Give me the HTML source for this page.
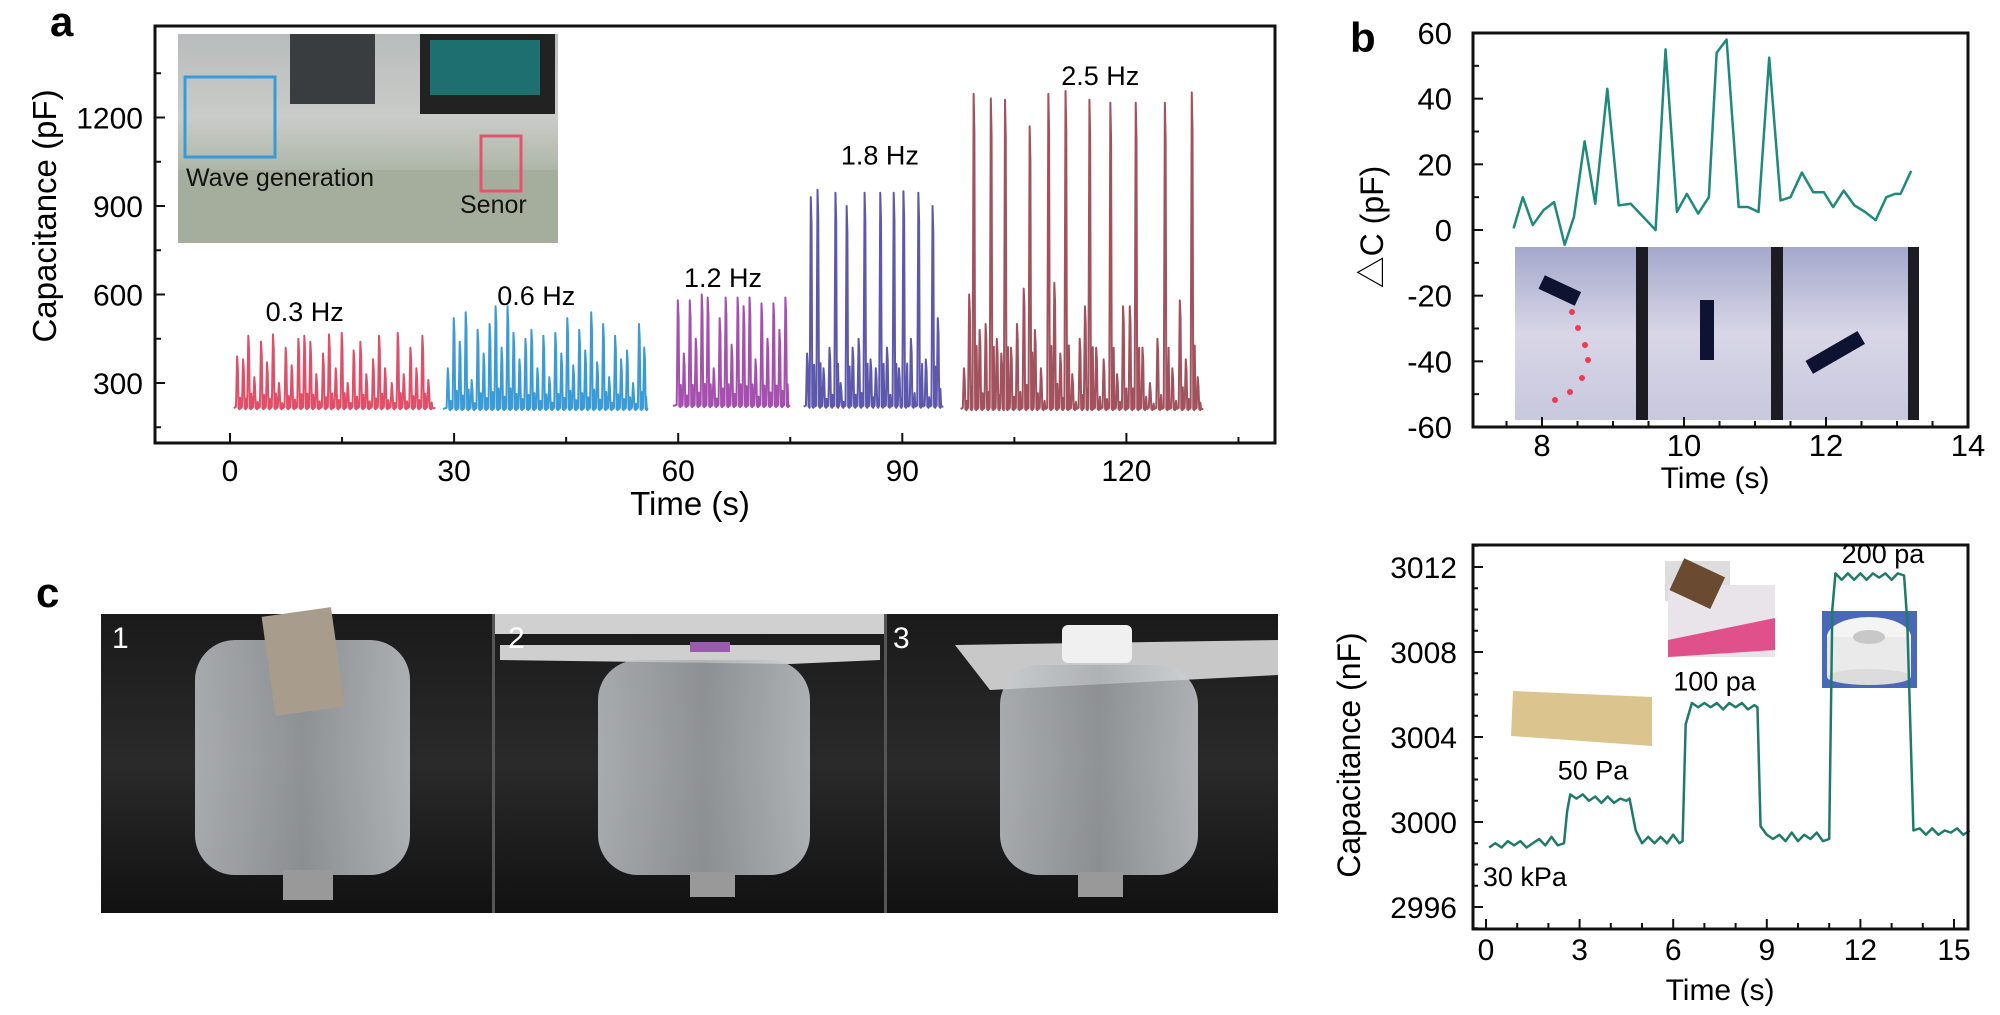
<!DOCTYPE html>
<html><head><meta charset="utf-8">
<style>
html,body{margin:0;padding:0;background:#fff;}
svg{display:block;font-family:"Liberation Sans","Noto Sans CJK SC",sans-serif;}
</style></head>
<body>
<svg id="fig" width="2000" height="1015" viewBox="0 0 2000 1015" xmlns="http://www.w3.org/2000/svg">
<defs>
<linearGradient id="gA" x1="0" y1="0" x2="0" y2="1"><stop offset="0" stop-color="#b8bcbc"/><stop offset="0.4" stop-color="#c9ccc8"/><stop offset="0.7" stop-color="#a9b2a2"/><stop offset="1" stop-color="#b9c0b0"/></linearGradient>
<linearGradient id="gB" x1="0" y1="0" x2="0" y2="1"><stop offset="0" stop-color="#a4a8cc"/><stop offset="0.5" stop-color="#d8d6e6"/><stop offset="1" stop-color="#c8c8de"/></linearGradient>
<linearGradient id="gC" x1="0" y1="0" x2="0" y2="1"><stop offset="0" stop-color="#1a1a1a"/><stop offset="0.5" stop-color="#2a2a2a"/><stop offset="1" stop-color="#111"/></linearGradient>
<linearGradient id="gGlass" x1="0" y1="0" x2="1" y2="0"><stop offset="0" stop-color="#c8ccd0"/><stop offset="0.5" stop-color="#a8acb0"/><stop offset="1" stop-color="#d0d4d8"/></linearGradient>
</defs>

<!-- ===== Panel a ===== -->
<text x="50" y="36" font-size="42" font-weight="bold">a</text>
<g>
  <rect x="178" y="34" width="380" height="209" fill="url(#gA)"/>
  <rect x="290" y="34" width="85" height="70" fill="#3a3d40"/>
  <rect x="420" y="34" width="135" height="80" fill="#222"/>
  <rect x="430" y="40" width="110" height="55" fill="#1d6f70"/>
  <rect x="178" y="170" width="380" height="73" fill="#a5ae9c"/>
  <rect x="185" y="77" width="90" height="80" fill="none" stroke="#3a9ad6" stroke-width="3"/>
  <rect x="481" y="136" width="40" height="55" fill="none" stroke="#e05570" stroke-width="3"/>
  <text x="186" y="186" font-size="25" fill="#111">Wave generation</text>
  <text x="460" y="213" font-size="25" fill="#111">Senor</text>
</g>
<g id="axA"></g>

<!-- ===== Panel b ===== -->
<text x="1350" y="52" font-size="42" font-weight="bold">b</text>
<g>
  <rect x="1515" y="247" width="404" height="173" fill="url(#gB)"/>
  <rect x="1636" y="247" width="12" height="173" fill="#1c1c22"/>
  <rect x="1771" y="247" width="12" height="173" fill="#1c1c22"/>
  <rect x="1908" y="247" width="11" height="173" fill="#1c1c22"/>
  <rect x="1540" y="283" width="40" height="15" fill="#0d1330" transform="rotate(25 1560 290)"/>
  <rect x="1700" y="300" width="14" height="60" fill="#0d1330"/>
  <rect x="1805" y="345" width="60" height="15" fill="#0d1330" transform="rotate(-30 1835 352)"/>
  <circle cx="1572" cy="312" r="3" fill="#ef3a55"/><circle cx="1578" cy="328" r="3" fill="#ef3a55"/>
  <circle cx="1585" cy="345" r="3" fill="#ef3a55"/><circle cx="1588" cy="360" r="3" fill="#ef3a55"/>
  <circle cx="1582" cy="378" r="3" fill="#ef3a55"/><circle cx="1570" cy="392" r="3" fill="#ef3a55"/>
  <circle cx="1555" cy="400" r="3" fill="#ef3a55"/>
</g>
<g id="axB"></g>

<!-- ===== Panel c ===== -->
<text x="36" y="607" font-size="42" font-weight="bold">c</text>
<g>
  <rect x="101" y="614" width="1177" height="299" fill="url(#gC)"/>
  <rect x="494" y="614" width="392" height="20" fill="#d0d0d0"/>
  <polygon points="500,645 880,645 880,660 790,664 500,660" fill="#cfcfcf"/>
  <polygon points="955,645 1278,640 1278,675 990,690" fill="#c8c8c8"/>
  <rect x="492" y="614" width="3" height="299" fill="#555"/>
  <rect x="884" y="614" width="3" height="299" fill="#555"/>
  <g>
    <rect x="195" y="640" width="215" height="235" rx="40" fill="url(#gGlass)" opacity="0.8"/>
    <rect x="268" y="612" width="70" height="100" fill="#a89c8c" transform="rotate(-8 300 660)"/>
    <rect x="283" y="870" width="50" height="30" fill="#999"/>
  </g>
  <g>
    <rect x="598" y="660" width="212" height="215" rx="40" fill="url(#gGlass)" opacity="0.8"/>
    <rect x="690" y="642" width="40" height="10" fill="#9a5ab0"/>
    <rect x="690" y="872" width="45" height="25" fill="#999"/>
  </g>
  <g>
    <rect x="1000" y="665" width="198" height="210" rx="40" fill="url(#gGlass)" opacity="0.8"/>
    <rect x="1062" y="625" width="70" height="38" rx="6" fill="#f0f0f0"/>
    <rect x="1078" y="872" width="45" height="25" fill="#999"/>
  </g>
  <text x="112" y="648" font-size="30" fill="#fff">1</text>
  <text x="508" y="648" font-size="30" fill="#fff">2</text>
  <text x="893" y="648" font-size="30" fill="#fff">3</text>
</g>

<!-- ===== Panel d ===== -->
<g>
  <polygon points="1513,691 1652,697 1652,746 1511,736" fill="#dcc48e"/>
  <rect x="1665" y="561" width="65" height="40" fill="#ddd"/>
  <rect x="1668" y="585" width="107" height="72" fill="#e8e4ea"/>
  <rect x="1675" y="566" width="45" height="35" fill="#6a4a30" transform="rotate(25 1697 583)"/>
  <polygon points="1668,640 1775,618 1775,650 1668,657" fill="#e0508a"/>
  <rect x="1822" y="611" width="95" height="77" fill="#4a68b8"/>
  <ellipse cx="1869" cy="637" rx="42" ry="20" fill="#f4f4f4"/>
  <rect x="1827" y="637" width="84" height="40" fill="#eaeaea"/>
  <ellipse cx="1869" cy="677" rx="42" ry="8" fill="#dcdcdc"/>
  <ellipse cx="1869" cy="637" rx="16" ry="7" fill="#c8c8c8"/>
</g>
<g id="axD"></g>
</svg>

<script>
// ---------- Panel a data ----------
const aSegT1=[1,1.8,2.5,3.3,4.2,5,5.8,6.6,7.5,8.3,9.2,10,10.8,11.6,12.5,13.3,14.2,15,15.8,16.6,17.5,18.3,19.2,20,20.8,21.7,22.5,23.3,24.2,25,25.8,26.6];
const aSegV1=[390,380,460,320,440,370,465,300,420,360,450,460,440,330,400,465,350,470,300,410,440,330,380,460,350,300,470,330,420,350,460,310];
const aSegT2=[29.2,30,30.8,31.6,32.4,33.2,34,34.8,35.6,36.4,37.2,38,38.8,39.6,40.4,41.2,42,42.8,43.6,44.4,45.2,46,46.8,47.6,48.4,49.2,50,50.8,51.6,52.4,53.2,54,54.8,55.5];
const aSegV2=[350,520,440,540,310,480,400,500,560,420,560,470,380,450,480,350,460,320,470,400,520,360,480,410,540,370,500,320,460,380,410,300,500,420];
const aSegT3=[60,60.8,61.6,62.4,63.2,64,64.8,65.6,66.4,67.2,68,68.8,69.6,70.4,71.2,72,72.8,73.6,74.4];
const aSegV3=[580,400,580,450,600,590,350,520,590,430,590,560,590,380,570,450,570,480,590];
const aSegT4=[77.3,77.8,78.7,79.5,80.3,81.1,81.8,82.6,83.4,84.2,85,85.8,86.5,87.1,88,88.9,89.6,90.2,91.2,92.2,93.2,94.1,94.8];
const aSegV4=[400,930,955,350,420,945,300,900,420,450,945,380,350,945,420,945,350,950,450,945,380,900,520];
const aSegT5=[98.3,99.0,99.6,100.4,101.2,101.9,102.7,103.3,103.8,104.6,105.4,106.3,107.1,107.8,108.6,109.6,110.4,111.2,111.9,112.8,113.8,114.5,115.1,116,117,117.9,118.8,119.6,120.5,121.3,122.2,123.2,124.2,125.2,126.2,127.2,128,128.8,129.6];
const aSegV5=[350,600,1280,480,500,1265,450,400,1260,420,500,620,1170,480,350,1280,640,400,1290,330,450,560,1260,420,380,1250,330,560,560,1250,420,300,450,1250,350,580,380,1285,320];
const aSegStart=[0.5,28.5,59.3,76.8,97.8];
const aSegEnd=[27.5,56,75,95.5,130.3];
const aBaseline=[215,212,222,220,212];
const aColors=["#e14e68","#3b9bd6","#a54fae","#5e58ac","#a2525c"];
const aFreqLabels=["0.3 Hz","0.6 Hz","1.2 Hz","1.8 Hz","2.5 Hz"];
const aFreqLabelT=[10,41,66,87,116.5];
const aFreqLabelV=[510,565,625,1040,1310];
const aXTicks=[0,30,60,90,120];
const aYTicks=[300,600,900,1200];

// ---------- Panel b data ----------
const bT=[7.6,7.73,7.87,8.02,8.17,8.32,8.45,8.6,8.75,8.92,9.08,9.25,9.6,9.74,9.9,10.04,10.2,10.35,10.46,10.6,10.77,10.9,11.05,11.2,11.36,11.5,11.66,11.82,11.97,12.1,12.25,12.4,12.55,12.7,12.85,12.97,13.05,13.2];
const bV=[0.5,10,1.5,6,8.5,-4.5,4,27,8,43,7.5,8,0,55,5.5,11,5,10,54,58,7,7,5.5,52.5,9,10,17.5,11.5,11.5,7,12,7.5,5.5,3,10,11,11,18];
const bXTicks=[8,10,12,14];
const bYTicks=[-60,-40,-20,0,20,40,60];

// ---------- Panel d data ----------
const dT=[0.1,0.3,0.5,0.7,0.9,1.1,1.3,1.5,1.7,1.9,2.1,2.3,2.5,2.6,2.7,2.9,3.1,3.3,3.5,3.7,3.9,4.1,4.3,4.5,4.6,4.8,5.0,5.2,5.4,5.6,5.8,6.0,6.2,6.3,6.4,6.6,6.8,7.0,7.2,7.4,7.6,7.8,8.0,8.2,8.4,8.6,8.7,8.8,9.0,9.2,9.4,9.6,9.8,10.0,10.2,10.4,10.6,10.8,11.0,11.1,11.2,11.4,11.6,11.8,12.0,12.2,12.4,12.6,12.8,13.0,13.2,13.4,13.5,13.7,13.9,14.1,14.3,14.5,14.7,14.9,15.1,15.3,15.5];
const dV=[2998.8,2999.0,2998.8,2999.1,2998.9,2999.1,2998.8,2999.0,2999.2,2998.9,2999.3,2998.9,2999.0,3000.5,3001.3,3001.1,3001.3,3001.0,3001.2,3000.9,3001.2,3000.9,3001.1,3001.0,3001.1,2999.6,2999.0,2999.3,2999.0,2999.3,2999.0,2999.4,2999.0,2999.1,3004.6,3005.6,3005.4,3005.6,3005.4,3005.6,3005.3,3005.6,3005.4,3005.6,3005.3,3005.5,3005.4,2999.8,2999.4,2999.2,2999.4,2999.1,2999.5,2999.1,2999.4,2999.2,2999.5,2999.1,2999.2,3010.0,3011.7,3011.4,3011.7,3011.4,3011.7,3011.4,3011.7,3011.5,3011.7,3011.4,3011.7,3011.6,3009.5,2999.6,2999.7,2999.4,2999.7,2999.4,2999.6,2999.5,2999.7,2999.4,2999.6];
const dXTicks=[0,3,6,9,12,15];
const dYTicks=[2996,3000,3004,3008,3012];
const dLabels=["30 kPa","50 Pa","100 pa","200 pa"];
const dLabelT=[-0.1,2.3,6.0,11.4];
const dLabelV=[2997.0,3002.0,3006.2,3012.2];

const NS="http://www.w3.org/2000/svg";
function mk(parent,tag,attrs){const e=document.createElementNS(NS,tag);for(const k in attrs)e.setAttribute(k,attrs[k]);parent.appendChild(e);return e;}

// ---------- Panel a ----------
(function(){
  const g=document.getElementById('axA');
  const x=t=>230+t*7.47, y=v=>383-(v-300)*88.5/300;
  for(let s=0;s<5;s++){
    const T=[aSegT1,aSegT2,aSegT3,aSegT4,aSegT5][s], V=[aSegV1,aSegV2,aSegV3,aSegV4,aSegV5][s];
    const b=aBaseline[s];
    let d=`M${x(aSegStart[s])},${y(b)}`;
    for(let i=0;i<T.length;i++){
      d+=` L${x(T[i]-0.2)},${y(b+4)} L${x(T[i]-0.05)},${y(V[i])} L${x(T[i]+0.05)},${y(V[i]*0.9)} L${x(T[i]+0.15)},${y(b)} L${x(T[i]+0.3)},${y(b-4)}`;
      const mid=(T[i]+(i+1<T.length?T[i+1]:aSegEnd[s]))/2;
      d+=` L${x(mid-0.05)},${y(b+(V[i]-b)*0.2)} L${x(mid+0.05)},${y(b)}`;
    }
    d+=` L${x(aSegEnd[s])},${y(b)}`;
    const p=mk(g,'path',{d:d,fill:'none',stroke:aColors[s],'stroke-width':2,'stroke-linejoin':'round'});
    
    
    const t=mk(g,'text',{x:x(aFreqLabelT[s]),y:y(aFreqLabelV[s]),'font-size':27,'text-anchor':'middle'});
    t.textContent=aFreqLabels[s];
    
    
  }
  const fr=mk(g,'rect',{x:155,y:26,width:1120,height:417,fill:'none',stroke:'#111','stroke-width':3});
  
  
  for(let t=0;t<=135;t+=15){mk(g,'line',{x1:x(t),x2:x(t),y1:443,y2:t%30===0?433:437,stroke:'#111','stroke-width':2});}
  for(let v=150;v<=1350;v+=150){mk(g,'line',{x1:155,x2:v%300===0?165:161,y1:y(v),y2:y(v),stroke:'#111','stroke-width':2});}
  aXTicks.forEach(t=>{const e=mk(g,'text',{x:x(t),y:481,'font-size':30,'text-anchor':'middle'});e.textContent=t;
    
    });
  aYTicks.forEach(v=>{const e=mk(g,'text',{x:143,y:y(v)+11,'font-size':30,'text-anchor':'end'});e.textContent=v;
    
    });
  const xt=mk(g,'text',{x:690,y:515,'font-size':33,'text-anchor':'middle'});xt.textContent='Time (s)';
  
  
  const yt=mk(g,'text',{x:0,y:0,'font-size':33,'text-anchor':'middle',transform:'translate(56,216) rotate(-90)'});yt.textContent='Capacitance (pF)';
  
  
})();

// ---------- Panel b ----------
(function(){
  const g=document.getElementById('axB');
  const x=t=>1542+(t-8)*71, y=v=>230-v*394/120;
  let d='';bT.forEach((t,i)=>{d+=(i?' L':'M')+x(t)+','+y(bV[i]);});
  const p=mk(g,'path',{d:d,fill:'none',stroke:'#1f8a7c','stroke-width':2.5,'stroke-linejoin':'round'});
  
  
  const fr=mk(g,'rect',{x:1473,y:33,width:495,height:394,fill:'none',stroke:'#111','stroke-width':3});
  
  
  for(let t=7.5;t<=14;t+=0.5){mk(g,'line',{x1:x(t),x2:x(t),y1:427,y2:t%2===0?417:421,stroke:'#111','stroke-width':2});}
  for(let v=-60;v<=60;v+=10){mk(g,'line',{x1:1473,x2:v%20===0?1483:1479,y1:y(v),y2:y(v),stroke:'#111','stroke-width':2});}
  bXTicks.forEach(t=>{const e=mk(g,'text',{x:x(t),y:456,'font-size':31,'text-anchor':'middle'});e.textContent=t;
    
    });
  bYTicks.forEach(v=>{const e=mk(g,'text',{x:1452,y:y(v)+11,'font-size':31,'text-anchor':'end'});e.textContent=v;
    
    });
  const xt=mk(g,'text',{x:1715,y:488,'font-size':30,'text-anchor':'middle'});xt.textContent='Time (s)';
  
  
  const yt=mk(g,'text',{x:0,y:0,'font-size':32,'text-anchor':'middle',transform:'translate(1383,227) rotate(-90)'});yt.textContent='\u25B3C (pF)';
  
  
})();

// ---------- Panel d ----------
(function(){
  const g=document.getElementById('axD');
  const x=t=>1486+t*31.2, y=v=>822-(v-3000)*85/4;
  let d='';dT.forEach((t,i)=>{d+=(i?' L':'M')+x(t)+','+y(dV[i]);});
  const p=mk(g,'path',{d:d,fill:'none',stroke:'#1f7a6a','stroke-width':2.5,'stroke-linejoin':'round'});
  
  
  const fr=mk(g,'rect',{x:1473,y:545,width:495,height:384,fill:'none',stroke:'#111','stroke-width':3});
  
  
  for(let t=0;t<=15;t+=1){mk(g,'line',{x1:x(t),x2:x(t),y1:929,y2:t%3===0?919:923,stroke:'#111','stroke-width':2});}
  for(let v=2995;v<=3013;v+=1){mk(g,'line',{x1:1473,x2:v%4===0?1483:1478,y1:y(v),y2:y(v),stroke:'#111','stroke-width':2});}
  dXTicks.forEach(t=>{const e=mk(g,'text',{x:x(t),y:960,'font-size':30,'text-anchor':'middle'});e.textContent=t;
    
    });
  dYTicks.forEach(v=>{const e=mk(g,'text',{x:1457,y:y(v)+11,'font-size':30,'text-anchor':'end'});e.textContent=v;
    
    });
  dLabels.forEach((s,i)=>{const e=mk(g,'text',{x:x(dLabelT[i]),y:y(dLabelV[i]),'font-size':27});e.textContent=s;
    
    });
  const xt=mk(g,'text',{x:1720,y:1000,'font-size':30,'text-anchor':'middle'});xt.textContent='Time (s)';
  
  
  const yt=mk(g,'text',{x:0,y:0,'font-size':32,'text-anchor':'middle',transform:'translate(1360,755) rotate(-90)'});yt.textContent='Capacitance (nF)';
  
  
})();
</script>
</body></html>
